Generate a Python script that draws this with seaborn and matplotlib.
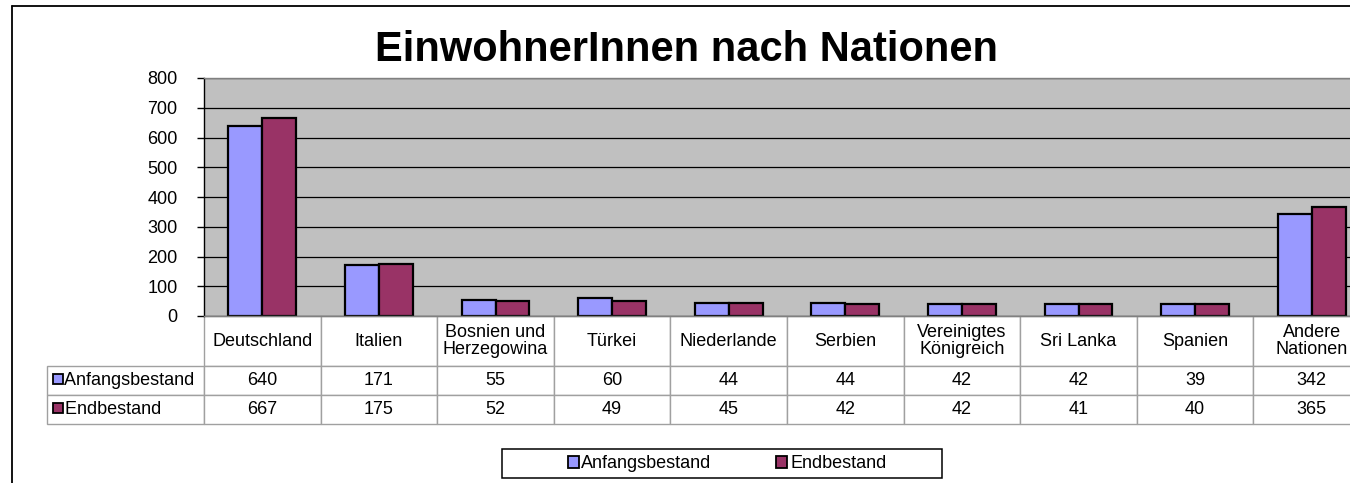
import numpy as np
import pandas as pd
import matplotlib
matplotlib.use("Agg")
import matplotlib.pyplot as plt
from matplotlib.patches import Patch, Rectangle
from matplotlib.lines import Line2D
import seaborn as sns

nations = ["Deutschland", "Italien", "Bosnien und\nHerzegowina", "Türkei", "Niederlande",
           "Serbien", "Vereinigtes\nKönigreich", "Sri Lanka", "Spanien", "Andere\nNationen"]
anfang = [640, 171, 55, 60, 44, 44, 42, 42, 39, 342]
ende = [667, 175, 52, 49, 45, 42, 42, 41, 40, 365]
series = ["Anfangsbestand", "Endbestand"]
colors = ["#9999FF", "#993366"]
title = "EinwohnerInnen nach Nationen"

df = pd.DataFrame({
    "Nation": nations * 2,
    "Wert": anfang + ende,
    "Bestand": [series[0]] * len(nations) + [series[1]] * len(nations),
})

sns.set_style("white")
plt.rcParams["font.family"] = ["Liberation Sans", "DejaVu Sans"]
plt.rcParams["text.color"] = "black"
plt.rcParams["ytick.color"] = "black"
plt.rcParams["ytick.labelcolor"] = "black"

W, H = 1350, 483
fig = plt.figure(figsize=(W / 100, H / 100), dpi=100)

# plot area in pixels (right edge runs past the picture like in the original)
px_l, px_r, px_t, px_b = 204, 1370, 78, 316
ax = fig.add_axes([px_l / W, 1 - px_b / H, (px_r - px_l) / W, (px_b - px_t) / H])
ax.set_facecolor("#C0C0C0")

sns.barplot(data=df, x="Nation", y="Wert", hue="Bestand", order=nations,
            hue_order=series, palette=colors, edgecolor="black", linewidth=1.6,
            width=0.58, gap=0, ax=ax, legend=False, errorbar=None, saturation=1)

ax.set_xlim(-0.5, len(nations) - 0.5)
ax.set_ylim(0, 800)
ax.set_yticks(np.arange(0, 801, 100))
ax.yaxis.grid(True, color="black", linewidth=0.9)
ax.set_axisbelow(True)
ax.set_xlabel("")
ax.set_ylabel("")
ax.tick_params(axis="x", bottom=False, labelbottom=False)
ax.tick_params(axis="y", left=True, length=5, width=1, color="black",
               labelsize=13, pad=14, direction="out", labelcolor="black")
ax.spines["left"].set_color("black")
ax.spines["left"].set_linewidth(1)
for side in ["top", "bottom"]:
    ax.spines[side].set_color("#808080")
    ax.spines[side].set_linewidth(1)
ax.spines["right"].set_visible(False)

# data table under the plot area
axw, axh = px_r - px_l, px_b - px_t
lab_l, head_h, row_h, lab_w = 47, 50, 29, px_l - 47
col_w = axw / len(nations)
tb = [(lab_l - px_l) / axw, -(head_h + 2 * row_h) / axh,
      (px_r - lab_l) / axw, (head_h + 2 * row_h) / axh]
cell_text = [["   " + series[0]] + [str(v) for v in anfang],
             ["   " + series[1]] + [str(v) for v in ende]]
table = ax.table(cellText=cell_text, colLabels=[""] + nations, cellLoc="center",
                 bbox=tb)
table.auto_set_font_size(False)
table.set_fontsize(13)
for (r, c), cell in table.get_celld().items():
    cell.set_edgecolor("#A0A0A0")
    cell.set_linewidth(1)
    cell.set_width(lab_w if c == 0 else col_w)
    cell.set_height(head_h if r == 0 else row_h)
    cell.get_text().set_linespacing(1.0)
    cell.get_text().set_color("black")
    if r == 0 and c == 0:
        cell.set_visible(False)
    if c == 0 and r > 0:
        cell._loc = "left"
        cell.get_text().set_horizontalalignment("left")
        cell.PAD = 0.02

# small colour keys in the row labels
for i, col in enumerate(colors):
    ax.plot([(lab_l + 11 - px_l) / axw], [-(head_h + row_h * (i + 0.45)) / axh],
            marker="s", markersize=7, markerfacecolor=col, markeredgecolor="black",
            markeredgewidth=1.3, transform=ax.transAxes, clip_on=False)

fig.text(687 / W, 1 - 50 / H, title, ha="center", va="center",
         fontsize=30, fontweight="bold", color="black")

# legend at the bottom with its own frame
handles = [Patch(facecolor=c, edgecolor="black", linewidth=1.3) for c in colors]
fig.legend(handles, series, loc="center", bbox_to_anchor=(727 / W, 1 - 464 / H),
           ncol=2, frameon=False, fontsize=13, handlelength=0.6, handleheight=0.6,
           handletextpad=0.15, columnspacing=3.6, labelcolor="black")
fig.add_artist(Rectangle((502 / W, 1 - 478 / H), 440 / W, 29 / H,
                         transform=fig.transFigure, fill=False,
                         edgecolor="black", linewidth=1.1))

# outer chart border (left and top visible)
fig.add_artist(Line2D([12 / W, 12 / W], [0, 1 - 6 / H], color="black", linewidth=1.3,
                      transform=fig.transFigure))
fig.add_artist(Line2D([12 / W, 1], [1 - 6 / H, 1 - 6 / H], color="black", linewidth=1.3,
                      transform=fig.transFigure))

fig.savefig("out.png", dpi=100)
